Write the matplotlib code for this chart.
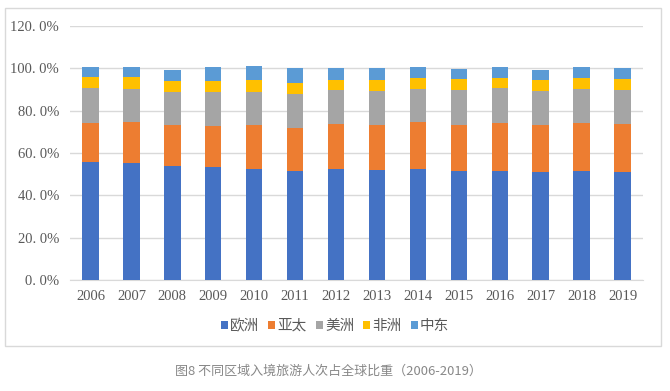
import matplotlib
matplotlib.use("Agg")
import matplotlib.pyplot as plt
from matplotlib.patches import Rectangle
import numpy as np

plt.rcParams['font.family'] = ['Liberation Serif', 'Noto Sans CJK SC', 'DejaVu Sans']

years = ['2006', '2007', '2008', '2009', '2010', '2011', '2012',
         '2013', '2014', '2015', '2016', '2017', '2018', '2019']
series_names = ['欧洲', '亚太', '美洲', '非洲', '中东']
europe   = [55.8, 55.2, 53.9, 53.3, 52.5, 51.3, 52.5, 52.0, 52.5, 51.3, 51.6, 50.9, 51.4, 50.8]
asia_pac = [18.6, 19.5, 19.1, 19.5, 20.8, 20.7, 21.4, 21.4, 22.0, 22.1, 22.5, 22.2, 22.7, 22.9]
americas = [16.3, 15.7, 15.8, 16.2, 15.7, 15.9, 15.7, 15.9, 15.6, 16.2, 16.5, 16.4, 16.2, 16.1]
africa   = [5.1, 5.4, 5.4, 5.0, 5.5, 5.3, 4.9, 5.2, 5.2, 5.2, 4.8, 4.8, 5.0, 5.0]
mideast  = [4.7, 5.0, 5.2, 6.5, 6.4, 6.8, 5.5, 5.5, 5.2, 4.9, 5.1, 4.9, 5.2, 5.2]
y_ticks = [0, 20, 40, 60, 80, 100, 120]
caption = '图8 不同区域入境旅游人次占全球比重（2006-2019）'

colors = ['#4472C4', '#ED7D31', '#A5A5A5', '#FFC000', '#5B9BD5']

fig = plt.figure(figsize=(6.70, 3.91), dpi=100)
ax = fig.add_axes([70/670, 1 - 280/391, (643 - 70)/670, (280 - 26)/391])

x = np.arange(len(years))
bottom = np.zeros(len(years))
handles = []
for name, vals, c in zip(series_names, [europe, asia_pac, americas, africa, mideast], colors):
    b = ax.bar(x, vals, width=0.4, bottom=bottom, color=c, label=name, zorder=3)
    bottom += np.array(vals)
    handles.append(b)

ax.set_xlim(-0.5, len(years) - 0.5)
ax.set_ylim(0, 120)
ax.set_yticks(y_ticks)
ax.set_yticklabels([f'{v:.1f}%'.replace('.', '. ') for v in y_ticks])
ax.set_xticks(x)
ax.set_xticklabels(years)
ax.yaxis.grid(True, color='#d9d9d9', linewidth=1.0, zorder=0)
ax.set_axisbelow(True)
for s in ['top', 'right', 'left']:
    ax.spines[s].set_visible(False)
ax.spines['bottom'].set_color('#d9d9d9')
ax.tick_params(axis='both', length=0, colors='#595959', labelsize=10.5)
ax.tick_params(axis='y', pad=8)
ax.tick_params(axis='x', pad=7)

leg = fig.legend(handles=handles, labels=series_names, loc='center',
                 bbox_to_anchor=(335/670, 1 - 326/391), ncol=5, frameon=False,
                 handlelength=0.5, handleheight=0.5, handletextpad=0.15,
                 columnspacing=0.6, prop={'family': ['Noto Sans CJK SC'], 'size': 10.5})
for t in leg.get_texts():
    t.set_color('#595959')

fig.patches.append(Rectangle((5/670, 1 - 346/391), (661 - 5)/670, (346 - 8)/391,
                             transform=fig.transFigure, fill=False,
                             edgecolor='#d9d9d9', linewidth=1.0))

fig.text(328/670, 1 - 371/391, caption, ha='center', va='center',
         color='#888888', fontsize=9.4, family=['Noto Sans CJK SC'])

fig.savefig('out.png', dpi=100)
